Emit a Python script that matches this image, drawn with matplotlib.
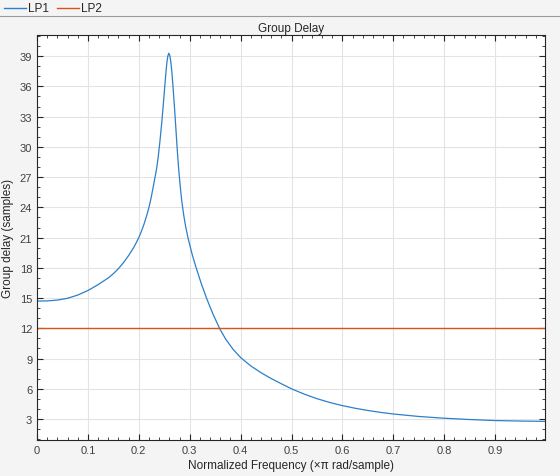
import matplotlib
matplotlib.use('Agg')
import matplotlib.pyplot as plt
from matplotlib.ticker import MultipleLocator
from matplotlib.lines import Line2D

plt.rcParams['font.family'] = ['Liberation Sans', 'DejaVu Sans']

# values
freq = [0.0, 0.02, 0.04, 0.06, 0.08, 0.10, 0.12, 0.14, 0.15, 0.16, 0.17, 0.18, 0.19,
        0.195, 0.20, 0.205, 0.21, 0.215, 0.22, 0.224, 0.228, 0.231, 0.235, 0.238,
        0.241, 0.245, 0.248, 0.251, 0.253, 0.255, 0.257, 0.259, 0.261, 0.263, 0.265,
        0.267, 0.27, 0.273, 0.275, 0.278, 0.281, 0.284, 0.288, 0.292, 0.297, 0.305,
        0.313, 0.323, 0.333, 0.345, 0.359, 0.371, 0.385, 0.40, 0.42, 0.44, 0.46,
        0.48, 0.50, 0.525, 0.55, 0.575, 0.60, 0.625, 0.65, 0.675, 0.70, 0.75, 0.80,
        0.85, 0.90, 0.95, 0.998]
lp1 = [14.7, 14.72, 14.8, 14.98, 15.3, 15.75, 16.33, 17.0, 17.42, 17.92, 18.52, 19.22, 20.02,
       20.5, 21.0, 21.6, 22.3, 23.1, 24.0, 24.9, 25.95, 26.75, 27.85, 28.95,
       30.3, 32.35, 34.15, 36.0, 37.2, 38.3, 39.0, 39.3, 39.05, 38.4, 37.4,
       36.1, 34.0, 31.7, 30.1, 28.0, 26.3, 24.8, 23.3, 22.1, 20.9, 19.3,
       17.95, 16.4, 15.0, 13.5, 11.95, 10.9, 9.93, 9.1, 8.27, 7.6, 7.02,
       6.5, 6.0, 5.47, 5.02, 4.645, 4.33, 4.07, 3.85, 3.66, 3.5, 3.255, 3.08,
       2.95, 2.85, 2.8, 2.77]
lp2_freq = [0.0, 0.998]
lp2 = [12.0, 12.0]
names = ['LP1', 'LP2']
colors = ['#2b80c9', '#d95319']

txt = '#404040'
fig = plt.figure(figsize=(5.6, 4.77), dpi=100, facecolor='#f4f4f4')
ax = fig.add_axes([37/560, 36/477, 508/560, 405/477])
ax.set_facecolor('white')

ax.plot(freq, lp1, color=colors[0], lw=0.9)
ax.plot(lp2_freq, lp2, color=colors[1], lw=1.0)

ax.set_xlim(0, 0.998)
ax.set_ylim(0.92, 41.1)
ax.xaxis.set_minor_locator(MultipleLocator(0.02))
ax.yaxis.set_minor_locator(MultipleLocator(1))
ax.set_xticks([0, 0.1, 0.2, 0.3, 0.4, 0.5, 0.6, 0.7, 0.8, 0.9])
ax.set_xticklabels(['0', '0.1', '0.2', '0.3', '0.4', '0.5', '0.6', '0.7', '0.8', '0.9'])
ax.set_yticks(range(3, 40, 3))
ax.tick_params(which='both', direction='in', top=True, right=True, colors='#262626',
               labelcolor=txt, labelsize=8)
ax.tick_params(which='major', length=4, width=0.8)
ax.tick_params(which='minor', length=2, width=0.6)
ax.grid(True, which='major', color='#e3e3e3', lw=0.8)
ax.set_axisbelow(True)
for s in ax.spines.values():
    s.set_color('#262626')
    s.set_linewidth(0.8)

ax.set_title('Group Delay', fontsize=8.5, color='#262626', pad=3)
ax.set_xlabel('Normalized Frequency (×π rad/sample)', fontsize=8.5, color='#262626', labelpad=3)
ax.set_ylabel('Group delay (samples)', fontsize=8.5, color='#262626', labelpad=4)

# legend strip on top
fig.add_artist(Line2D([0, 1], [1 - 17/477, 1 - 17/477], color='#9a9a9a', lw=0.8))
for i, name in enumerate(names):
    x0 = (4 + i * 53) / 560
    y0 = 1 - 9/477
    fig.add_artist(Line2D([x0, x0 + 22/560], [y0, y0], color=colors[i], lw=1.0))
    fig.text(x0 + 24/560, y0, name, fontsize=8.5, color='#262626', va='center')

fig.savefig('out.png', dpi=100, facecolor=fig.get_facecolor())
